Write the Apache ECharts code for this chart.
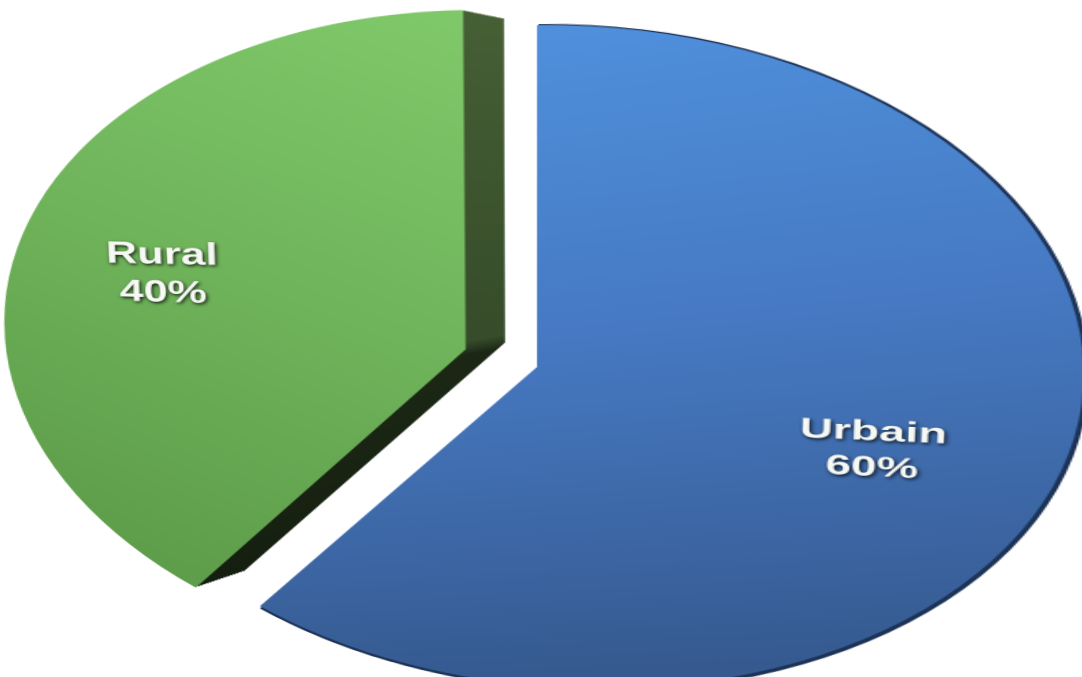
<!DOCTYPE html>
<html>
<head>
<meta charset="utf-8">
<script src="https://cdn.jsdelivr.net/npm/echarts@6/dist/echarts.min.js"></script>
<style>
  html, body { margin: 0; padding: 0; background: #ffffff; overflow: hidden; }
  #stage { position: relative; width: 1082px; height: 677px; overflow: hidden; }
  /* the flat pie is tilted in 3D and widened, like a perspective pie */
  #chart {
    position: absolute; left: 0; top: 0; width: 1082px; height: 780px;
    transform-origin: 537px 367px;
    transform: scaleX(1.61) perspective(1500px) rotateX(-9deg) rotateY(-20deg);
  }
</style>
</head>
<body>
<div id="stage"><div id="chart"></div></div>
<script>
// population split
const categories = ['Urbain', 'Rural'];
const values = [60, 40];
const explodedSlice = 'Rural';

// geometry of the pie (pixels, before the 3D tilt)
const CX = 537, CY = 367, R = 334, EXPLODE = 50;
// side walls of the raised slice: copies stepping back in depth
const DEPTH_STEPS = 16, DEPTH_DX = 24, DEPTH_DY = -9, DEPTH_SHRINK = 0.05;

const NONE = 'rgba(0,0,0,0)';
const sliceStyle = {
  Urbain: { type: 'linear', x: 0, y: 0, x2: 0.25, y2: 1,
    colorStops: [{ offset: 0, color: '#5193e0' }, { offset: 0.5, color: '#4679c2' }, { offset: 1, color: '#365a90' }] },
  Rural: { type: 'linear', x: 0, y: 1, x2: 1, y2: 0,
    colorStops: [{ offset: 0, color: '#5a9847' }, { offset: 1, color: '#80c96a' }] }
};
const wallStyle = { type: 'linear', x: 0, y: 0, x2: 0, y2: 1,
  colorStops: [
    { offset: 0, color: '#465f35' }, { offset: 0.54, color: '#364c2a' },
    { offset: 0.565, color: '#1c2815' }, { offset: 1, color: '#151f10' }
  ] };
// label size per slice, evening out the tilt's foreshortening
const labelSize = { Urbain: 28, Rural: 32 };

function slices(colorFor, withLabel) {
  return categories.map((name, i) => {
    const item = {
      name: name,
      value: values[i],
      selected: name === explodedSlice,
      itemStyle: { color: colorFor(name) }
    };
    if (withLabel) {
      item.label = { fontSize: labelSize[name], lineHeight: Math.round(labelSize[name] * 1.25) };
    }
    return item;
  });
}

const pieBase = {
  type: 'pie', startAngle: 90, clockwise: true,
  selectedMode: 'single', selectedOffset: EXPLODE,
  silent: true, animation: false, avoidLabelOverlap: false,
  label: { show: false }, labelLine: { show: false },
  emphasis: { disabled: true }
};

const series = [];

// thin dark rim along the outer edge of the large slice
series.push(Object.assign({}, pieBase, {
  center: [CX + 1, CY + 1], radius: R + 2,
  data: slices(n => n === 'Urbain' ? '#1c3357' : NONE)
}));

// depth walls of the exploded slice, back to front
for (let k = DEPTH_STEPS; k >= 1; k--) {
  const t = k / DEPTH_STEPS;
  series.push(Object.assign({}, pieBase, {
    center: [CX + DEPTH_DX * t, CY + DEPTH_DY * t],
    radius: R * (1 - DEPTH_SHRINK * t),
    selectedOffset: EXPLODE * (1 - DEPTH_SHRINK * t),
    data: slices(n => n === explodedSlice ? wallStyle : NONE)
  }));
}

// top faces
series.push(Object.assign({}, pieBase, {
  center: [CX, CY], radius: R,
  data: slices(n => sliceStyle[n])
}));

// labels, placed two thirds of the way out along each slice
series.push(Object.assign({}, pieBase, {
  center: [CX, CY], radius: [R * 0.32, R],
  data: slices(() => NONE, true),
  label: {
    show: true, position: 'inside',
    formatter: p => p.name + '\n' + p.percent + '%',
    color: '#f6f8f4', fontFamily: '"Liberation Sans", Arial, sans-serif',
    fontSize: 28, fontWeight: 'bold', lineHeight: 36,
    textShadowColor: 'rgba(0,0,0,0.85)', textShadowBlur: 3,
    textShadowOffsetX: 1, textShadowOffsetY: 1.5
  }
}));

const chart = echarts.init(document.getElementById('chart'), null, { renderer: 'canvas', devicePixelRatio: 2 });
chart.setOption({ animation: false, backgroundColor: 'transparent', series: series });
</script>
</body>
</html>
